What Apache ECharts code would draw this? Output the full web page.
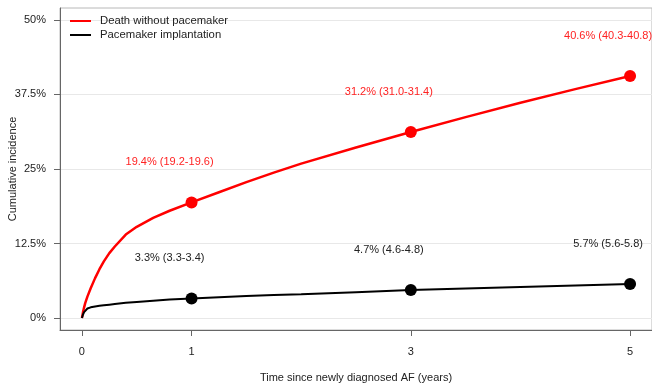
<!DOCTYPE html>
<html>
<head>
<meta charset="utf-8">
<script src="https://cdn.jsdelivr.net/npm/echarts@6/dist/echarts.min.js"></script>
<style>
html,body{margin:0;padding:0;background:#fff;}
#chart{width:652px;height:387px;}
</style>
</head>
<body>
<div id="chart"></div>
<script>
// ---- data ----
const times = [0, 0.01, 0.02, 0.03, 0.05, 0.08, 0.12, 0.16, 0.2, 0.25, 0.3, 0.4, 0.5, 0.65, 0.8, 1, 1.25, 1.5, 1.75, 2, 2.5, 3, 3.5, 4, 4.5, 5];
const deathValues = [0, 1.0, 1.8, 2.5, 3.6, 5.0, 6.7, 8.2, 9.5, 10.9, 12.0, 14.0, 15.3, 16.8, 18.0, 19.4, 21.1, 22.8, 24.4, 25.9, 28.6, 31.2, 33.7, 36.1, 38.4, 40.6];
const paceValues = [0, 0.6, 1.0, 1.3, 1.6, 1.8, 1.95, 2.05, 2.15, 2.25, 2.35, 2.55, 2.7, 2.9, 3.1, 3.3, 3.5, 3.7, 3.85, 4.0, 4.35, 4.7, 4.95, 5.2, 5.45, 5.7];
const markerTimes = [1, 3, 5];
const deathMarks = [19.4, 31.2, 40.6];
const paceMarks = [3.3, 4.7, 5.7];
const deathLabels = ['19.4% (19.2-19.6)', '31.2% (31.0-31.4)', '40.6% (40.3-40.8)'];
const paceLabels = ['3.3% (3.3-3.4)', '4.7% (4.6-4.8)', '5.7% (5.6-5.8)'];
const xTicks = [0, 1, 3, 5];
const yTicks = [0, 12.5, 25, 37.5, 50];
const seriesNames = ['Death without pacemaker', 'Pacemaker implantation'];

const FONT = 'Liberation Sans, Arial, sans-serif';
const FS = 11;
const zip = (a, b) => a.map((v, i) => [v, b[i]]);

const chart = echarts.init(document.getElementById('chart'), null, {renderer: 'canvas'});
chart.setOption({
  animation: false,
  textStyle: {fontFamily: FONT},
  grid: {left: 60, right: 0, top: 8, bottom: 57, containLabel: false, outerBoundsMode: 'none',
    show: true, borderColor: '#b8b8b8', borderWidth: 1},
  legend: {
    left: 70, top: 14, padding: 0, orient: 'vertical', itemWidth: 21, itemHeight: 2, itemGap: 0, icon: 'rect',
    textStyle: {fontSize: 11.3, color: '#222', fontFamily: FONT, lineHeight: 14, padding: [0, 0, 0, 4]},
    data: seriesNames
  },
  xAxis: {
    type: 'value', min: -0.2, max: 5.2,
    axisLine: {show: true, onZero: false, lineStyle: {color: '#666', width: 1}},
    axisTick: {show: true, length: 6, customValues: xTicks, lineStyle: {color: '#666'}},
    axisLabel: {customValues: xTicks, color: '#222', fontSize: FS, margin: 16, fontFamily: FONT},
    splitLine: {show: false},
    name: 'Time since newly diagnosed AF (years)', nameLocation: 'middle', nameGap: 42, nameMoveOverlap: false,
    nameTextStyle: {fontSize: FS, color: '#222', fontFamily: FONT}
  },
  yAxis: {
    type: 'value', min: -2, max: 52,
    axisLine: {show: true, onZero: false, lineStyle: {color: '#666', width: 1}},
    axisTick: {show: true, length: 6, customValues: yTicks, lineStyle: {color: '#666'}},
    axisLabel: {customValues: yTicks, color: '#222', fontSize: FS, margin: 14, fontFamily: FONT,
      formatter: v => v + '%'},
    splitLine: {show: false},
    name: 'Cumulative incidence', nameLocation: 'middle', nameGap: 42, nameRotate: 90, nameMoveOverlap: false,
    nameTextStyle: {fontSize: FS, color: '#222', fontFamily: FONT}
  },
  series: [
    {
      type: 'line', name: 'grid', data: [], z: 0, silent: true,
      markLine: {
        silent: true, symbol: 'none', label: {show: false}, z: 0,
        lineStyle: {color: '#e8e8e8', width: 1, type: 'solid'},
        data: yTicks.map(v => ({yAxis: v}))
      }
    },
    {
      type: 'line', name: seriesNames[0], data: zip(times, deathValues), symbol: 'none',
      smooth: false, z: 3,
      lineStyle: {color: '#ff0000', width: 2.5}, itemStyle: {color: '#ff0000'}
    },
    {
      type: 'line', name: seriesNames[1], data: zip(times, paceValues), symbol: 'none',
      smooth: false, z: 3,
      lineStyle: {color: '#000', width: 2}, itemStyle: {color: '#000'}
    },
    {
      type: 'scatter', name: 'deathMarks', data: zip(markerTimes, deathMarks), symbolSize: 12, z: 4,
      itemStyle: {color: '#ff0000', opacity: 1},
      label: {show: true, position: 'inside', offset: [-22, -40], color: '#ff2222', fontSize: FS, fontFamily: FONT,
        formatter: p => deathLabels[p.dataIndex]}
    },
    {
      type: 'scatter', name: 'paceMarks', data: zip(markerTimes, paceMarks), symbolSize: 12, z: 4,
      itemStyle: {color: '#000', opacity: 1},
      label: {show: true, position: 'inside', offset: [-22, -40], color: '#222', fontSize: FS, fontFamily: FONT,
        formatter: p => paceLabels[p.dataIndex]}
    }
  ]
});
</script>
</body>
</html>
